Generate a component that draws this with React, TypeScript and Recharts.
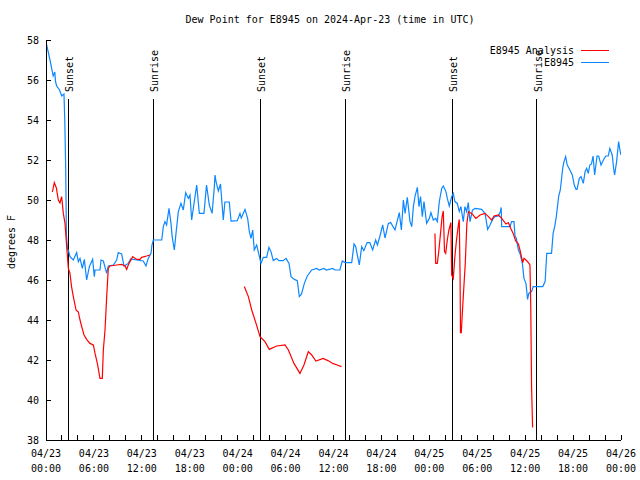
import React from "react";
import { LineChart, Line, XAxis, YAxis, ReferenceLine, Legend } from "recharts";

// hours since 2024-04-23 00:00 UTC
const blueHours = [
  0.0, 0.5, 0.9, 1.1, 1.2, 1.34, 1.7, 1.97, 2.25, 2.35, 2.47, 2.55, 2.7, 2.8, 3.0, 3.42, 3.84, 4.05, 4.26, 4.55,
  4.8, 5.09, 5.43, 5.84, 6.05, 6.14, 6.76, 6.89, 7.18, 7.6, 7.8, 8.43, 8.85, 9.05, 9.47, 9.77, 10.3, 10.6, 11.36, 12.18,
  12.52, 12.8, 13.15, 13.27, 13.44, 14.49, 14.69, 14.9, 15.1, 15.4, 15.65, 15.8, 16.07, 16.28, 16.57, 16.9, 17.19, 17.49, 17.82, 18.03,
  18.24, 18.57, 18.87, 19.2, 19.78, 20.1, 20.45, 20.8, 21.08, 21.16, 21.3, 21.58, 21.85, 22.2, 22.4, 22.95, 23.17, 23.95, 24.29, 24.45,
  24.92, 25.25, 25.46, 25.67, 25.88, 26.08, 26.38, 26.63, 26.92, 27.21, 27.63, 27.92, 28.17, 28.46, 28.88, 29.17, 29.7, 30.05, 30.43, 30.68,
  31.1, 31.47, 31.72, 32.0, 32.35, 32.72, 33.27, 33.9, 34.2, 34.8, 35.1, 35.9, 36.2, 36.8, 37.1, 37.44, 38.28, 38.57, 38.78, 39.23,
  39.53, 39.8, 40.2, 40.55, 40.9, 41.28, 41.5, 41.82, 42.16, 42.45, 42.87, 43.16, 43.7, 44.24, 44.5, 44.75, 44.96, 45.24, 45.58, 45.8,
  46.0, 46.2, 46.5, 46.7, 46.9, 47.12, 47.33, 47.66, 48.0, 48.2, 48.5, 48.8, 49.0, 49.25, 49.55, 49.75, 50.08, 50.25, 50.5, 50.8,
  51.0, 51.2, 51.5, 51.75, 51.95, 52.25, 52.46, 52.67, 52.88, 53.09, 53.4, 53.72, 54.55, 54.98, 55.3, 55.6, 55.93, 56.2, 56.64, 56.9,
  57.0, 57.06, 58.1, 58.3, 58.6, 58.73, 58.9, 59.15, 59.35, 59.65, 59.85, 60.1, 60.3, 60.45, 60.8, 61.0, 62.2, 62.5, 62.7, 63.3,
  63.5, 63.7, 63.9, 64.2, 64.4, 64.7, 64.86, 65.07, 65.27, 65.6, 65.9, 66.15, 66.37, 66.5, 66.78, 67.0, 67.28, 67.5, 67.7, 67.9,
  68.1, 68.3, 68.5, 68.7, 69.0, 69.2, 69.5, 69.8, 70.1, 70.4, 70.6, 70.9, 71.1, 71.2, 71.45, 71.7, 71.9, 72.0,
];
const blueDew = [
  57.9, 57.0, 56.2, 56.4, 55.9, 55.7, 55.5, 55.2, 55.3, 54.0, 51.5, 48.3, 47.5, 47.5, 47.17, 47.0, 47.37, 46.92, 47.08, 46.58,
  47.03, 46.0, 46.67, 47.03, 46.17, 46.5, 46.5, 47.0, 46.95, 46.33, 46.7, 46.75, 47.0, 47.37, 47.3, 46.7, 46.83, 47.05, 47.0, 46.95,
  46.7, 47.08, 47.33, 47.75, 48.0, 48.0, 48.67, 48.92, 48.75, 49.58, 48.83, 48.17, 47.5, 48.33, 49.42, 49.83, 49.5, 50.37, 50.08, 50.25,
  49.0, 49.92, 50.75, 49.33, 49.33, 50.75, 49.75, 49.33, 50.67, 51.25, 50.9, 50.45, 50.8, 49.0, 49.9, 49.9, 48.95, 48.97, 49.33, 49.1,
  49.53, 49.08, 48.42, 48.08, 48.5, 47.5, 47.75, 47.33, 46.83, 47.13, 47.13, 47.63, 47.42, 46.97, 47.08, 46.97, 46.97, 47.08, 46.83, 46.17,
  46.03, 45.97, 45.17, 45.3, 45.83, 46.2, 46.5, 46.58, 46.5, 46.58, 46.5, 46.58, 46.5, 46.5, 46.95, 46.87, 46.87, 47.8, 47.67, 46.75,
  47.67, 47.47, 47.87, 47.87, 47.5, 48.0, 47.75, 48.2, 48.75, 48.1, 48.83, 48.87, 48.5, 49.37, 48.5, 50.0, 49.33, 50.13, 48.92, 48.67,
  49.67, 50.17, 50.63, 49.67, 50.17, 49.17, 49.92, 48.83, 49.08, 49.37, 49.0, 49.08, 48.92, 49.92, 50.58, 50.7, 50.42, 50.08, 49.7, 50.17,
  50.33, 49.92, 49.83, 49.42, 49.67, 48.92, 49.67, 49.42, 49.87, 48.92, 49.5, 49.58, 49.53, 49.33, 48.53, 48.75, 49.03, 49.17, 49.2, 49.42,
  49.63, 48.67, 48.67, 48.92, 48.92, 48.2, 48.08, 47.5, 47.33, 46.83, 46.08, 45.83, 45.03, 45.33, 45.42, 45.67, 45.67, 45.92, 47.33, 47.33,
  48.33, 48.67, 49.17, 50.2, 50.5, 51.58, 51.92, 52.17, 51.75, 51.5, 51.25, 50.75, 50.53, 50.53, 51.08, 51.17, 50.83, 51.42, 51.58, 51.33,
  51.75, 51.8, 52.2, 51.25, 52.2, 52.2, 51.75, 52.0, 52.2, 52.2, 52.58, 52.25, 51.5, 51.25, 51.92, 52.92, 52.42, 52.25,
];

const redHours = [
  0.8, 1.04, 1.3, 1.54, 1.75, 1.96, 2.17, 2.38, 2.59, 2.8, 3.0, 3.2, 3.42, 3.76, 4.05, 4.26, 4.47, 4.76, 5.09, 5.5,
  5.93, 6.14, 6.43, 6.76, 7.05, 7.18, 7.39, 7.6, 7.8, 8.0, 8.85, 9.47, 9.9, 10.1, 10.3, 10.85, 11.36, 11.77, 11.98, 12.6,
  13.0, 18.0,
  24.83, 25.34, 25.76, 26.3, 26.8, 27.42, 27.96, 28.88, 29.93, 30.35, 31.05, 31.8, 32.3, 32.85, 33.27, 33.8, 34.7, 35.3, 35.9, 36.45,
  37.0, 42.0,
  48.7, 48.8, 49.0, 49.2, 49.4, 49.6, 49.75, 49.9, 50.05, 50.25, 50.45, 50.7, 50.8, 51.0, 51.2, 51.4, 51.65, 51.75, 51.85, 51.9,
  52.0, 52.2, 52.35, 52.5, 52.7, 52.9, 53.3, 53.84, 54.35, 54.97, 55.4, 55.8, 56.1, 56.64, 57.06, 57.6, 57.9, 58.2, 58.5, 58.8,
  59.15, 59.35, 59.7, 59.85, 60.1, 60.4, 60.6, 60.7, 60.8, 60.93,
];
const redDew = [
  50.4, 50.87, 50.6, 50.0, 49.85, 50.17, 49.33, 48.83, 47.67, 46.58, 46.33, 45.67, 45.17, 44.5, 44.4, 44.0, 43.67, 43.25, 43.03, 42.83,
  42.75, 42.33, 41.83, 41.08, 41.08, 42.5, 43.5, 45.17, 46.58, 46.7, 46.75, 46.78, 46.7, 46.53, 46.75, 47.17, 47.03, 47.03, 47.13, 47.2,
  47.25, null,
  45.67, 45.17, 44.5, 43.83, 43.17, 42.92, 42.53, 42.7, 42.75, 42.5, 41.83, 41.33, 41.75, 42.42, 42.25, 41.95, 42.08, 41.97, 41.83, 41.75,
  41.67, null,
  48.33, 46.83, 46.83, 47.5, 48.33, 49.17, 49.45, 47.42, 47.33, 48.0, 48.5, 48.87, 46.25, 46.08, 47.17, 48.0, 48.8, 49.03, 46.17, 43.37,
  43.37, 44.83, 45.83, 46.83, 48.83, 49.42, 49.33, 49.08, 49.25, 49.33, 49.17, 49.0, 49.2, 49.25, 49.08, 48.8, 48.87, 48.58, 48.33, 47.97,
  47.8, 47.5, 46.87, 47.08, 47.0, 46.87, 46.75, 44.67, 40.67, 38.63,
];

const tickHours = [0, 2, 4, 6, 8, 10, 12, 14, 16, 18, 20, 22, 24, 26, 28, 30, 32, 34, 36, 38, 40, 42, 44, 46, 48, 50, 52, 54, 56, 58, 60, 62, 64, 66, 68, 70, 72];
const labelHours = [0, 6, 12, 18, 24, 30, 36, 42, 48, 54, 60, 66, 72];
const tickDates = ["04/23", "04/23", "04/23", "04/23", "04/24", "04/24", "04/24", "04/24", "04/25", "04/25", "04/25", "04/25", "04/26"];
const tickTimes = ["00:00", "06:00", "12:00", "18:00", "00:00", "06:00", "12:00", "18:00", "00:00", "06:00", "12:00", "18:00", "00:00"];
const dewTicks = [38, 40, 42, 44, 46, 48, 50, 52, 54, 56, 58];

const sunHours = [2.8, 13.44, 26.84, 37.48, 50.88, 61.45];
const sunNames = ["Sunset", "Sunrise", "Sunset", "Sunrise", "Sunset", "Sunrise"];
const sunLineTop = 55.05;

const FONT = "'DejaVu Sans Mono', 'Liberation Mono', monospace";
const BLUE = "#0b87ff";
const RED = "#ff0000";

const blueData = blueHours.map((t, i) => ({ t, v: blueDew[i] }));
const redData = redHours.map((t, i) => ({ t, v: redDew[i] }));

const TimeTick = (props: any) => {
  const { x, y, payload } = props;
  const i = labelHours.indexOf(payload.value);
  if (i < 0) return <g />;
  return (
    <g>
      <text x={x} y={y + 21.5} textAnchor="middle" fontFamily={FONT} fontSize={10} fill="#000">
        {tickDates[i]}
      </text>
      <text x={x} y={y + 36.5} textAnchor="middle" fontFamily={FONT} fontSize={10} fill="#000">
        {tickTimes[i]}
      </text>
    </g>
  );
};

const sunLabel = (name: string) => (props: any) => {
  const vb = props.viewBox || {};
  const x = vb.x + 5;
  const y = vb.y - 7;
  return (
    <text x={x} y={y} transform={`rotate(-90 ${x} ${y})`} fontFamily={FONT} fontSize={10} fill="#000">
      {name}
    </text>
  );
};

const LegendBox = () => (
  <svg width={140} height={30} style={{ display: "block" }}>
    <text x={94} y={13.5} textAnchor="end" fontFamily={FONT} fontSize={10} fill="#000">
      E8945 Analysis
    </text>
    <line x1={101} x2={129} y1={10.5} y2={10.5} stroke={RED} shapeRendering="crispEdges" />
    <text x={94} y={26} textAnchor="end" fontFamily={FONT} fontSize={10} fill="#000">
      E8945
    </text>
    <line x1={101} x2={129} y1={22.5} y2={22.5} stroke={BLUE} shapeRendering="crispEdges" />
  </svg>
);

const empty = () => <g />;
const axisStroke = { stroke: "#000", shapeRendering: "crispEdges" };

export default function App() {
  return (
    <div style={{ position: "absolute", left: 0, top: 0, width: 640, height: 480, background: "#fff" }}>
      <LineChart width={640} height={480} margin={{ top: 40, right: 19, bottom: 0, left: 0 }}>
        <XAxis
          dataKey="t"
          type="number"
          domain={[0, 72]}
          allowDataOverflow
          ticks={tickHours}
          interval={0}
          height={40}
          tickSize={-5}
          tickMargin={0}
          tick={TimeTick}
          axisLine={axisStroke}
          tickLine={axisStroke}
        />
        <XAxis
          xAxisId="top"
          orientation="top"
          type="number"
          domain={[0, 72]}
          allowDataOverflow
          ticks={tickHours}
          interval={0}
          height={0}
          tickSize={-5}
          tick={empty}
          axisLine={axisStroke}
          tickLine={axisStroke}
        />
        <YAxis
          type="number"
          domain={[38, 58]}
          allowDataOverflow
          ticks={dewTicks}
          interval={0}
          width={46}
          tickSize={-5}
          tickMargin={12}
          tick={{ fontFamily: FONT, fontSize: 10, fill: "#000" }}
          axisLine={axisStroke}
          tickLine={axisStroke}
        />
        <YAxis
          yAxisId="r"
          orientation="right"
          type="number"
          domain={[38, 58]}
          allowDataOverflow
          ticks={dewTicks}
          interval={0}
          width={0}
          tickSize={-5}
          tick={empty}
          axisLine={axisStroke}
          tickLine={axisStroke}
        />
        {sunHours.map((h, i) => (
          <ReferenceLine
            key={i}
            segment={[
              { x: h, y: 38 },
              { x: h, y: sunLineTop },
            ]}
            stroke="#000"
            strokeWidth={1}
            shapeRendering="crispEdges"
            label={sunLabel(sunNames[i])}
          />
        ))}
        <Line
          data={blueData}
          dataKey="v"
          name="E8945"
          stroke={BLUE}
          strokeWidth={1.2}
          dot={false}
          activeDot={false}
          isAnimationActive={false}
        />
        <Line
          data={redData}
          dataKey="v"
          name="E8945 Analysis"
          stroke={RED}
          strokeWidth={1.2}
          dot={false}
          activeDot={false}
          connectNulls={false}
          isAnimationActive={false}
        />
        <Legend
          layout="vertical"
          align="center"
          verticalAlign="middle"
          content={LegendBox}
          wrapperStyle={{ top: 40, left: 480, width: 140, height: 30 }}
        />
      </LineChart>
      <div
        style={{
          position: "absolute",
          left: 330,
          top: 14,
          transform: "translateX(-50%)",
          fontFamily: FONT,
          fontSize: 10,
          lineHeight: "12px",
          whiteSpace: "nowrap",
        }}
      >
        Dew Point for E8945 on 2024-Apr-23 (time in UTC)
      </div>
      <div
        style={{
          position: "absolute",
          left: 12,
          top: 242,
          transform: "translate(-50%, -50%) rotate(-90deg)",
          fontFamily: FONT,
          fontSize: 10,
          lineHeight: "12px",
          whiteSpace: "nowrap",
        }}
      >
        degrees F
      </div>
    </div>
  );
}
